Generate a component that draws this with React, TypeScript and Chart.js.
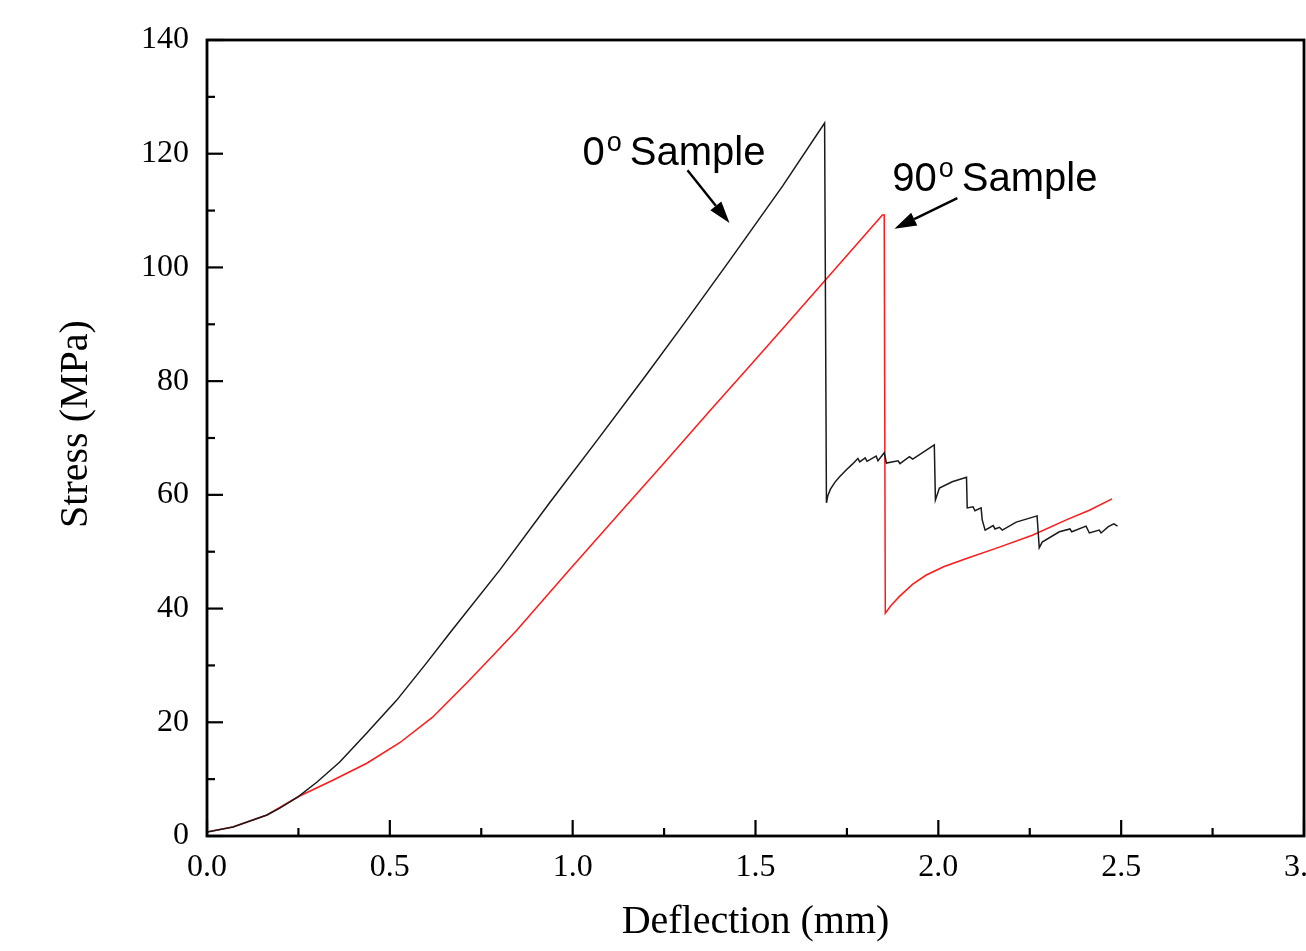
import React, { useEffect, useRef } from "react";
import { Chart, registerables } from "chart.js";

Chart.register(...registerables);

// ---- Data (Deflection in mm, Stress in MPa) ----
const sample0Deflection = [
  0, 0.071, 0.164, 0.199, 0.249, 0.301, 0.363, 0.437, 0.519, 0.6, 0.664, 0.801, 0.937, 1.074,
  1.2, 1.301, 1.429, 1.574, 1.689, 1.694, 1.698, 1.705, 1.717, 1.73, 1.75, 1.765, 1.78, 1.785,
  1.8, 1.805, 1.83, 1.835, 1.852, 1.858, 1.89, 1.895, 1.921, 1.93, 1.989, 1.992, 2.003, 2.038,
  2.077, 2.079, 2.095, 2.1, 2.117, 2.12, 2.128, 2.15, 2.155, 2.167, 2.175, 2.213, 2.27, 2.276,
  2.284, 2.331, 2.36, 2.365, 2.404, 2.413, 2.44, 2.445, 2.465, 2.48, 2.49,
];
const sample0Stress = [
  0.7, 1.6, 3.7, 4.9, 6.9, 9.5, 13.0, 18.1, 23.9, 30.4, 35.7, 46.8, 58.6, 70.2,
  81.0, 89.8, 101.2, 114.3, 125.4, 58.6, 59.9, 61.0, 62.2, 63.2, 64.5, 65.4, 66.4, 65.8,
  66.5, 65.9, 66.8, 66.0, 67.4, 65.6, 66.0, 65.5, 66.7, 66.3, 68.8, 59.1, 61.2, 62.3,
  63.1, 57.7, 57.9, 57.2, 57.7, 55.6, 53.8, 54.6, 54.0, 54.3, 53.8, 55.2, 56.3, 50.7,
  51.7, 53.5, 54.0, 53.5, 54.5, 53.3, 53.8, 53.3, 54.4, 54.9, 54.5,
];
const sample90Deflection = [
  0, 0.071, 0.164, 0.249, 0.344, 0.437, 0.527, 0.617, 0.71, 0.78, 0.847, 0.984, 1.12,
  1.25, 1.374, 1.489, 1.585, 1.702, 1.847, 1.852, 1.855, 1.87, 1.893, 1.93, 1.967, 2.016,
  2.077, 2.167, 2.257, 2.35, 2.413, 2.475,
];
const sample90Stress = [
  0.7, 1.6, 3.7, 6.9, 9.8, 12.8, 16.4, 20.9, 26.9, 31.6, 36.2, 46.3, 56.2,
  65.6, 74.7, 83.0, 90.0, 98.6, 109.2, 109.2, 39.2, 40.5, 42.1, 44.3, 45.9, 47.4,
  48.8, 50.8, 52.9, 55.6, 57.3, 59.3,
];
const seriesNames = ["0° Sample", "90° Sample"];
const xTickValues = [0, 0.5, 1, 1.5, 2, 2.5, 3];
const yTickValues = [0, 20, 40, 60, 80, 100, 120, 140];
const xTitle = "Deflection (mm)";
const yTitle = "Stress (MPa)";

// annotation labels (anchored in data units)
const labelMain = ["0", "90"];
const labelSup = ["o", "o"];
const labelRest = ["Sample", "Sample"];
const labelAt = [
  [1.027, 118.0],
  [1.874, 113.4],
];
const arrowFrom = [
  [1.314, 117.1],
  [2.052, 112.2],
];
const arrowTo = [
  [1.429, 107.8],
  [1.88, 106.8],
];

const SERIF = '"Liberation Serif", "Times New Roman", serif';
const SANS = '"Liberation Sans", Arial, sans-serif';

const framePlugin = {
  id: "frameAndNotes",
  afterDraw(chart: any) {
    const { ctx, chartArea, scales } = chart;
    const { left, right, top, bottom } = chartArea;
    const xs = scales.x;
    const ys = scales.y;
    ctx.save();
    ctx.strokeStyle = "#000";
    ctx.fillStyle = "#000";
    ctx.lineCap = "butt";

    // inward tick marks on bottom and left axes
    ctx.lineWidth = 2.2;
    for (let i = 0; i <= 12; i++) {
      const v = i * 0.25;
      const px = xs.getPixelForValue(v);
      const len = i % 2 === 0 ? 16 : 8;
      ctx.beginPath();
      ctx.moveTo(px, bottom);
      ctx.lineTo(px, bottom - len);
      ctx.stroke();
    }
    for (let i = 0; i <= 14; i++) {
      const v = i * 10;
      const py = ys.getPixelForValue(v);
      const len = i % 2 === 0 ? 16 : 8;
      ctx.beginPath();
      ctx.moveTo(left, py);
      ctx.lineTo(left + len, py);
      ctx.stroke();
    }

    // frame
    ctx.lineWidth = 2.8;
    ctx.strokeRect(left, top, right - left, bottom - top);

    // axis titles
    ctx.font = `40px ${SERIF}`;
    ctx.textBaseline = "alphabetic";
    ctx.textAlign = "center";
    ctx.fillText(xTitle, (left + right) / 2, 933);
    ctx.save();
    ctx.translate(87, 424);
    ctx.rotate(-Math.PI / 2);
    ctx.fillText(yTitle, 0, 0);
    ctx.restore();

    // annotations
    ctx.textAlign = "left";
    for (let i = 0; i < labelMain.length; i++) {
      const px = xs.getPixelForValue(labelAt[i][0]);
      const py = ys.getPixelForValue(labelAt[i][1]);
      ctx.font = `40px ${SANS}`;
      ctx.fillText(labelMain[i], px, py);
      const w1 = ctx.measureText(labelMain[i]).width;
      ctx.font = `27px ${SANS}`;
      ctx.fillText(labelSup[i], px + w1 + 2, py - 14);
      const w2 = ctx.measureText(labelSup[i]).width;
      ctx.font = `40px ${SANS}`;
      ctx.fillText(labelRest[i], px + w1 + 2 + w2 + 8, py);

      const fx = xs.getPixelForValue(arrowFrom[i][0]);
      const fy = ys.getPixelForValue(arrowFrom[i][1]);
      const tx = xs.getPixelForValue(arrowTo[i][0]);
      const ty = ys.getPixelForValue(arrowTo[i][1]);
      const ang = Math.atan2(ty - fy, tx - fx);
      const headLen = 22;
      const headHalf = 7;
      const bx = tx - headLen * Math.cos(ang);
      const by = ty - headLen * Math.sin(ang);
      ctx.lineWidth = 2.4;
      ctx.beginPath();
      ctx.moveTo(fx, fy);
      ctx.lineTo(bx, by);
      ctx.stroke();
      ctx.beginPath();
      ctx.moveTo(tx, ty);
      ctx.lineTo(bx + headHalf * Math.sin(ang), by - headHalf * Math.cos(ang));
      ctx.lineTo(bx - headHalf * Math.sin(ang), by + headHalf * Math.cos(ang));
      ctx.closePath();
      ctx.fill();
    }
    ctx.restore();
  },
};

export default function App() {
  const canvasRef = useRef<HTMLCanvasElement | null>(null);

  useEffect(() => {
    const canvas = canvasRef.current;
    if (!canvas) return;
    const toPoints = (xs: number[], ys: number[]) => xs.map((x, i) => ({ x, y: ys[i] }));
    const chart = new Chart(canvas, {
      type: "line",
      data: {
        datasets: [
          {
            label: seriesNames[0],
            data: toPoints(sample0Deflection, sample0Stress),
            borderColor: "#1a1a1a",
            borderWidth: 1.5,
            pointRadius: 0,
            tension: 0,
            fill: false,
          },
          {
            label: seriesNames[1],
            data: toPoints(sample90Deflection, sample90Stress),
            borderColor: "#ff1a1a",
            borderWidth: 1.5,
            pointRadius: 0,
            tension: 0,
            fill: false,
          },
        ],
      },
      options: {
        responsive: false,
        animation: false,
        devicePixelRatio: 1,
        layout: { padding: { left: 0, top: 40, right: 36, bottom: 0 } },
        plugins: { legend: { display: false }, tooltip: { enabled: false } },
        scales: {
          x: {
            type: "linear",
            min: 0,
            max: 3,
            afterBuildTicks: (s: any) => {
              s.ticks = xTickValues.map((v) => ({ value: v }));
            },
            afterFit: (s: any) => {
              s.height = 115;
            },
            grid: { display: false, drawTicks: false },
            border: { display: false },
            ticks: {
              autoSkip: false,
              maxRotation: 0,
              padding: 12,
              color: "#000",
              font: { family: SERIF, size: 32 },
              callback: (v: any) => Number(v).toFixed(1),
            },
          },
          y: {
            type: "linear",
            min: 0,
            max: 140,
            afterBuildTicks: (s: any) => {
              s.ticks = yTickValues.map((v) => ({ value: v }));
            },
            afterFit: (s: any) => {
              s.width = 207;
            },
            grid: { display: false, drawTicks: false },
            border: { display: false },
            ticks: {
              autoSkip: false,
              padding: 18,
              color: "#000",
              font: { family: SERIF, size: 32 },
              callback: (v: any) => String(v),
            },
          },
        },
      },
      plugins: [framePlugin],
    } as any);
    return () => chart.destroy();
  }, []);

  return (
    <div
      style={{
        position: "absolute",
        left: 0,
        top: 0,
        width: 1306,
        height: 951,
        overflow: "hidden",
        background: "#fff",
      }}
    >
      <canvas ref={canvasRef} width={1340} height={951} style={{ width: 1340, height: 951, display: "block" }} />
    </div>
  );
}
